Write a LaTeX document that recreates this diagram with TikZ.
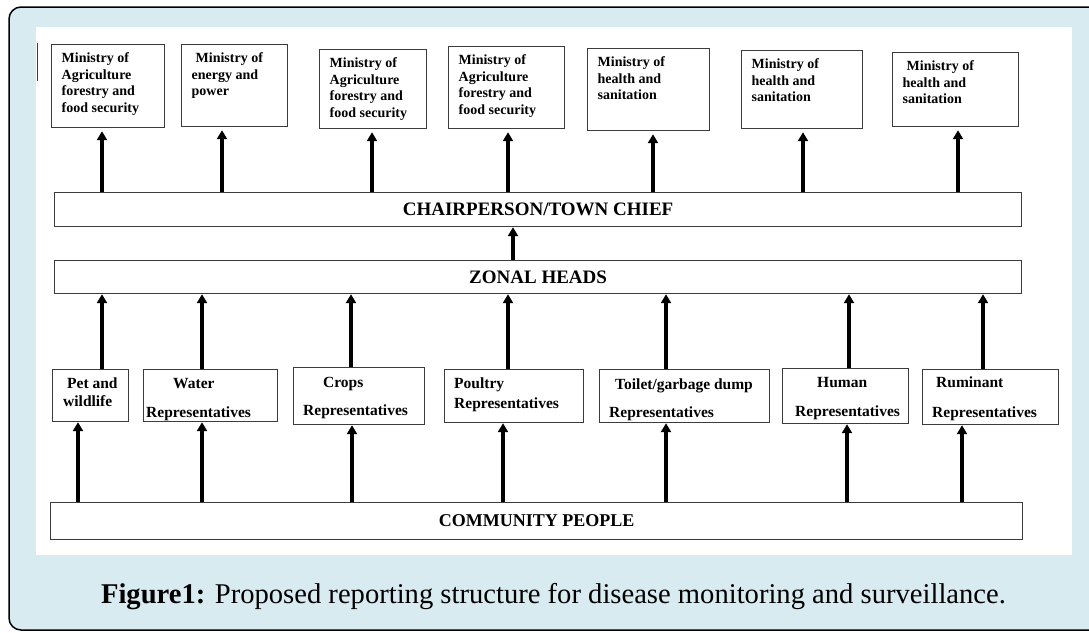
\documentclass[tikz,border=0pt]{standalone}
\usepackage{fontspec}
\setmainfont{Liberation Serif}
\usetikzlibrary{arrows.meta}

\definecolor{panelblue}{RGB}{215,235,240}
\definecolor{boxgray}{RGB}{60,60,60}

\tikzset{
  box/.style={draw=boxgray, line width=1.2pt, fill=white, inner sep=0pt, anchor=north west},
  mtxt/.style={font=\bfseries\fontsize{14}{16.5}\selectfont, align=left, anchor=north west, inner sep=0pt},
  rtxt/.style={font=\bfseries\fontsize{15.5}{18}\selectfont, anchor=base west, inner sep=0pt},
  bigtxt/.style={font=\bfseries\fontsize{19}{22}\selectfont},
  uparrow/.style={line width=3.3pt, -{Triangle[width=10pt,length=9pt]}},
}

\begin{document}
\begin{tikzpicture}[x=1pt, y=-1pt]
  \useasboundingbox (0,0) rectangle (1089,632);
  \clip (0,0) rectangle (1089,632);
  % panel and white figure area
  \draw[fill=panelblue, line width=1.5pt, rounded corners=12pt] (9,7) rectangle (1110,630);
  \fill[white] (36,27) rectangle (1072,555);
  \draw[boxgray, line width=1pt] (37.5,43) -- (37.5,81);

  % the three wide levels
  \node[box, bigtxt, minimum width=967, minimum height=34] (chair) at (54,192) {CHAIRPERSON/TOWN CHIEF};
  \node[box, bigtxt, minimum width=967, minimum height=33] (zonal) at (54,260) {ZONAL HEADS};
  \node[box, font=\bfseries\fontsize{18}{21}\selectfont, minimum width=972, minimum height=37] (comm) at (50,502) {COMMUNITY PEOPLE};

  \draw[uparrow] (zonal.north -| 513,0) -- (chair.south -| 513,0);

  % ministries
  \foreach \xa/\ya/\xb/\yb/\ax/\txt [count=\i] in {
      51/44/164/127/102/{Ministry of\\Agriculture\\forestry and\\food security},
      181/44/287/126/222/{\hspace{4pt}Ministry of\\energy and\\power},
      319/49/426/128/372/{Ministry of\\Agriculture\\forestry and\\food security},
      448/46/564/128/508/{Ministry of\\Agriculture\\forestry and\\food security},
      587/48/709/130/653/{Ministry of\\health and\\sanitation},
      741/50/862/128/803/{Ministry of\\health and\\sanitation},
      892/52/1018/126/958/{\hspace{4pt}Ministry of\\health and\\sanitation}}{
    \node[box, minimum width=\xb-\xa, minimum height=\yb-\ya] (m\i) at (\xa,\ya) {};
    \node[mtxt] at ([shift={(10.5pt,-8.5pt)}]m\i.north west) {\txt};
    \draw[uparrow, shorten >=3pt] (chair.north -| \ax,0) -- (m\i.south -| \ax,0);
  }

  % representatives
  \foreach \xa/\ya/\xb/\yb/\ux/\cx/\la/\lax/\lay/\lb/\lbx/\lby [count=\i] in {
      52/369/128/421/102/78/{Pet and}/67/388/{wildlife}/63/406,
      143/369/277/421/202/202/{Water}/173/388/{Representatives}/146/417,
      293/367/424/424/351/352/{Crops}/323/387/{Representatives}/303/415,
      444/369/583/422/508/503/{Poultry}/454/388/{Representatives}/454/408,
      599/369/769/422/666/666/{Toilet/garbage dump}/615/389/{Representatives}/609/417,
      782/368/908/423/849/847/{Human}/817/387/{Representatives}/795/416,
      922/369/1058/424/983/962/{Ruminant}/936/387/{Representatives}/932/417}{
    \node[box, minimum width=\xb-\xa, minimum height=\yb-\ya] (r\i) at (\xa,\ya) {};
    \node[rtxt] at (\lax,\lay) {\la};
    \node[rtxt] at (\lbx,\lby) {\lb};
    \draw[uparrow] (r\i.north -| \ux,0) -- (zonal.south -| \ux,0);
    \draw[uparrow] (comm.north -| \cx,0) -- (r\i.south -| \cx,0);
  }

  % caption
  \node[font=\fontsize{28.6}{32}\selectfont, anchor=base] (cap) at (553.5,603)
    {\textbf{Figure1:} Proposed reporting structure for disease monitoring and surveillance.};
\end{tikzpicture}
\end{document}
